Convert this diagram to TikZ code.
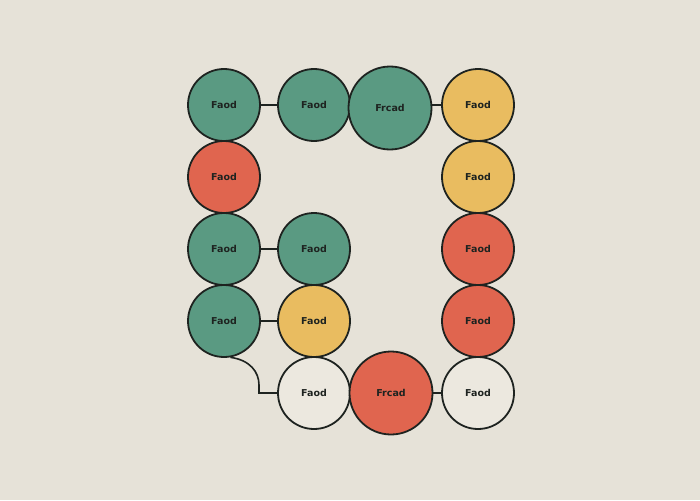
\documentclass[tikz,border=0pt]{standalone}
\usepackage{fontspec}
\setmainfont{DejaVu Sans}
\definecolor{bg}{HTML}{E6E2D8}
\definecolor{cgreen}{HTML}{5A9A82}
\definecolor{cred}{HTML}{E0654F}
\definecolor{cyellow}{HTML}{E9BC60}
\definecolor{cwhite}{HTML}{ECE8DF}
\definecolor{ink}{HTML}{1E2320}
\begin{document}
\begin{tikzpicture}[x=1pt,y=-1pt,
  ball/.style={circle,draw=ink,line width=1.8pt,minimum size=72pt,inner sep=0pt,font=\bfseries\fontsize{9.5}{11}\selectfont,text=ink},
  bigball/.style={ball,minimum size=83pt},
  link/.style={draw=ink,line width=1.6pt}]
\fill[bg] (0,0) rectangle (700,500);
\useasboundingbox (0,0) rectangle (700,500);
\node[ball,fill=cgreen] (a1) at (224,105) {Faod};
\node[ball,fill=cgreen] (a2) at (314,105) {Faod};
\node[bigball,fill=cgreen] (a3) at (390,108) {Frcad};
\node[ball,fill=cyellow] (a4) at (478,105) {Faod};
\node[ball,fill=cred] (b1) at (224,177) {Faod};
\node[ball,fill=cyellow] (b4) at (478,177) {Faod};
\node[ball,fill=cgreen] (c1) at (224,249) {Faod};
\node[ball,fill=cgreen] (c2) at (314,249) {Faod};
\node[ball,fill=cred] (c4) at (478,249) {Faod};
\node[ball,fill=cgreen] (d1) at (224,321) {Faod};
\node[ball,fill=cyellow] (d2) at (314,321) {Faod};
\node[ball,fill=cred] (d4) at (478,321) {Faod};
\node[ball,fill=cwhite] (e2) at (314,393) {Faod};
\node[bigball,fill=cred] (e3) at (391,393) {Frcad};
\node[ball,fill=cwhite] (e4) at (478,393) {Faod};
\draw[link] (a1) -- (a2);
\draw[link] (a4.west) -- (a4.west -| a3.east);
\draw[link] (c1) -- (c2);
\draw[link] (d1) -- (d2);
\draw[link] (e3) -- (e4);
\coordinate (k1) at (259,393);
\draw[link] (d1.-80) .. controls (250,360) and (259,372) .. (259,385) -- (k1) -- (e2.west);
\end{tikzpicture}
\end{document}
